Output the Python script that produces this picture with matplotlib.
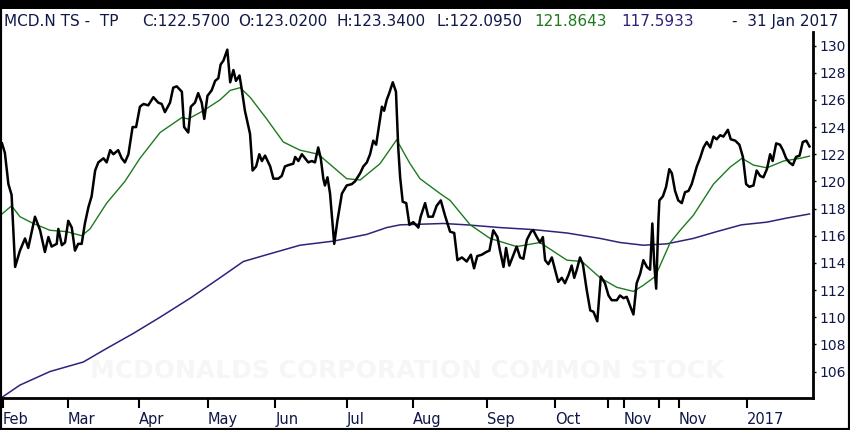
import numpy as np
import matplotlib
matplotlib.use("Agg")
import matplotlib.pyplot as plt
from matplotlib.patches import Rectangle

# trading session number (0 = 1 Feb 2016) and close price
priceDay = [0, 0.9, 2.0, 3.0, 4.1, 5.6, 7.2, 8.2, 10.3, 11.9, 13.4, 14.5, 15.5, 17.1, 17.6, 18.7, 19.7,
            20.7, 21.8, 22.8, 23.8, 24.9, 25.9, 27.0, 28.0, 29.1, 30.1, 31.7, 32.7, 33.8, 34.8, 36.3,
            37.4, 38.4, 39.5, 40.8, 41.9, 43.1, 44.2, 45.7, 47.3, 48.8, 49.9, 50.9, 52.5, 53.5, 54.6,
            56.2, 56.9, 58.2, 59.0, 60.3, 61.3, 62.4, 63.2, 64.2, 65.5, 66.6, 67.6, 68.3, 69.2, 70.4,
            71.3, 72.3, 73.1, 74.2, 74.9, 75.9, 77.5, 78.3, 79.4, 80.4, 81.2, 82.2, 83.8, 84.8, 86.3,
            87.4, 88.4, 89.5, 91.0, 91.6, 92.6, 93.7, 94.7, 95.7, 96.8, 97.8, 98.8, 99.6, 100.4, 100.9,
            101.7, 102.5, 103.8, 104.8, 106.2, 107.7, 109.3, 110.3, 111.9, 112.9, 114.0, 115.0, 116.0,
            116.9, 117.6, 118.7, 119.4, 120.2, 121.0, 122.1, 123.1, 123.8, 124.4, 125.2, 126.3, 127.3,
            128.5, 130.1, 130.8, 132.2, 133.2, 134.6, 135.8, 137.1, 138.4, 140.0, 141.3, 142.3, 143.7,
            145.2, 146.5, 147.5, 148.5, 149.9, 151.3, 152.3, 153.5, 154.8, 155.6, 156.7, 157.5, 158.5,
            159.8, 160.8, 161.9, 162.9, 164.0, 165.3, 166.0, 167.1, 168.1, 169.0, 169.7, 170.7, 171.8,
            172.8, 173.8, 174.9, 175.9, 177.0, 178.0, 178.8, 179.6, 180.6, 181.5, 182.7, 183.8, 184.8,
            186.0, 187.1, 188.4, 189.5, 190.5, 192.1, 193.1, 194.2, 195.2, 196.3, 197.3, 198.3, 199.4,
            200.4, 201.5, 202.5, 203.2, 203.8, 204.4, 205.1, 205.4, 206.5, 207.5, 208.5, 209.3, 210.3,
            211.3, 212.4, 213.4, 214.5, 215.5, 217.1, 218.1, 219.2, 220.2, 221.3, 222.3, 223.3, 224.4,
            225.4, 226.8, 227.7, 229.1, 230.4, 231.5, 232.5, 233.5, 234.8, 235.8, 236.9, 237.9, 239.0,
            240.0, 240.8, 241.9, 243.1, 244.0, 245.0, 246.0, 247.1, 248.1, 249.2, 250.2, 251.3, 252.3]
priceClose = [122.8, 122.1, 119.8, 119.0, 113.7, 114.9, 115.8, 115.1, 117.4, 116.4, 114.8, 115.9, 115.2,
              115.4, 116.5, 115.3, 115.5, 117.1, 116.6, 114.9, 115.4, 115.4, 116.9, 118.1, 118.9, 120.8,
              121.4, 121.7, 121.4, 122.3, 122.0, 122.3, 121.7, 121.4, 122.0, 124.0, 124.0, 125.5, 125.7,
              125.6, 126.2, 125.8, 125.7, 125.1, 125.8, 126.9, 127.0, 126.6, 124.0, 123.6, 125.5, 125.8,
              126.5, 125.8, 124.6, 126.3, 126.7, 127.4, 127.6, 128.6, 128.9, 129.7, 127.3, 128.2, 127.4,
              127.8, 126.8, 125.2, 123.5, 120.8, 121.1, 122.0, 121.5, 121.9, 121.1, 120.2, 120.2, 120.4,
              121.1, 121.2, 121.3, 121.8, 121.5, 122.0, 121.7, 121.4, 121.5, 121.4, 122.5, 121.7, 120.2,
              119.7, 120.3, 119.1, 115.4, 117.1, 119.1, 119.7, 119.8, 120.0, 120.6, 121.1, 121.4, 122.0,
              123.0, 122.7, 123.8, 125.5, 125.2, 126.0, 126.5, 127.3, 126.6, 122.5, 120.3, 118.5, 118.4,
              116.8, 117.0, 116.6, 117.4, 118.4, 117.4, 117.4, 118.2, 118.6, 117.5, 116.3, 116.2, 114.2,
              114.4, 114.1, 114.6, 113.6, 114.5, 114.6, 114.8, 114.9, 116.4, 115.9, 114.9, 113.7, 115.1,
              113.8, 114.6, 115.2, 114.4, 114.3, 115.7, 116.3, 116.4, 115.9, 115.5, 115.9, 114.2, 113.9,
              114.4, 113.5, 112.6, 112.9, 112.5, 113.1, 113.8, 112.9, 113.5, 114.4, 113.9, 112.0, 110.5,
              110.4, 109.7, 113.0, 112.5, 111.6, 111.25, 111.25, 111.6, 111.4, 111.5, 110.8, 110.2, 112.5,
              113.2, 114.2, 113.7, 113.5, 116.9, 113.9, 112.1, 117.1, 118.6, 118.9, 119.6, 120.9, 120.6,
              119.3, 118.6, 118.4, 119.2, 119.3, 119.8, 121.1, 121.7, 122.5, 122.9, 122.5, 123.3, 123.1,
              123.4, 123.3, 123.8, 123.1, 123.0, 122.7, 121.8, 119.8, 119.6, 119.7, 120.8, 120.4, 120.3,
              120.9, 122.0, 121.5, 122.8, 122.7, 122.3, 121.7, 121.4, 121.2, 121.8, 121.9, 122.9, 123.0,
              122.57]

# short moving average (green)
maShortDay = [0, 3.0, 5.6, 9.8, 15.0, 20.2, 24.9, 27.5, 32.7, 38.4, 43.1, 49.4, 56.2, 58.2, 62.9, 68.1,
              71.3, 74.4, 77.5, 82.7, 87.9, 93.1, 98.8, 103.5, 107.7, 111.9, 118.1, 123.3, 127.5, 130.6,
              136.9, 140.0, 146.3, 152.5, 160.8, 168.1, 176.5, 181.2, 186.9, 192.1, 197.3, 200.4, 204.1,
              208.8, 211.9, 216.0, 222.3, 227.5, 231.2, 234.8, 239.0, 244.2, 249.4, 252.3]
maShort = [117.6, 118.2, 117.4, 116.9, 116.4, 116.3, 116.0, 116.5, 118.4, 120.0, 121.7, 123.6, 124.7,
           124.6, 125.2, 126.0, 126.7, 126.9, 126.2, 124.6, 122.9, 122.3, 122.0, 121.05, 120.2, 120.1,
           121.3, 123.06, 121.3, 120.2, 119.1, 118.6, 116.8, 115.8, 115.2, 115.5, 114.2, 114.1, 112.9,
           112.2, 111.9, 112.35, 113.0, 115.5, 116.4, 117.5, 119.8, 121.05, 121.7, 121.2, 121.0, 121.5,
           121.7, 121.86]

# long moving average (purple)
maLongDay = [0, 5.6, 15.0, 25.4, 32.7, 41.0, 49.4, 58.8, 68.1, 75.4, 82.7, 93.1, 103.5, 114.0, 120.2,
             124.4, 137.9, 145.2, 155.6, 166.0, 176.5, 186.9, 193.1, 200.4, 207.7, 216.0, 223.3, 231.0,
             239.0, 245.2, 252.3]
maLong = [104.1, 105.0, 106.0, 106.7, 107.7, 108.8, 110.0, 111.4, 112.9, 114.1, 114.6, 115.3, 115.6,
          116.1, 116.6, 116.8, 116.9, 116.8, 116.6, 116.45, 116.2, 115.8, 115.5, 115.3, 115.4, 115.8,
          116.3, 116.8, 117.0, 117.3, 117.6]

tickDays = [0.2, 20.6, 42.9, 64.3, 85.4, 107.8, 128.4, 151.5, 172.7, 189.2, 194.2, 205.4, 211.5, 232.8]
tickLabels = ["Feb", "Mar", "Apr", "May", "Jun", "Jul", "Aug", "Sep", "Oct", "", "Nov", "", "Nov", "2017"]
yTicks = [106, 108, 110, 112, 114, 116, 118, 120, 122, 124, 126, 128, 130]

navy = "#101848"
green = "#1e7a1e"
purple = "#33207a"

fig = plt.figure(figsize=(8.5, 4.3), dpi=100)
fig.patch.set_facecolor("white")
ax = fig.add_axes([2 / 850, 32 / 430, 811 / 850, 366 / 430])

# faint watermark
ax.text(0.5, 0.075, "MCDONALDS CORPORATION COMMON STOCK", transform=ax.transAxes,
        ha="center", va="center", fontsize=18, fontweight="bold", color="#f6f6f6", zorder=0)

ax.plot(maLongDay, maLong, color=purple, lw=1.1, zorder=2)
ax.plot(maShortDay, maShort, color=green, lw=1.0, zorder=3)
ax.plot(priceDay, priceClose, color="black", lw=1.8, zorder=4)

ax.set_xlim(0, 253.4)
ax.set_ylim(104.05, 131.0)

for side in ["top", "left"]:
    ax.spines[side].set_visible(False)
ax.spines["bottom"].set_linewidth(2)
ax.spines["right"].set_linewidth(2)

ax.yaxis.tick_right()
ax.set_yticks(yTicks)
ax.set_yticklabels([str(v) for v in yTicks])
ax.tick_params(axis="y", direction="out", length=2.5, width=1, pad=2,
               labelsize=10, labelcolor=navy)
ax.set_xticks(tickDays)
ax.set_xticklabels(tickLabels)
ax.tick_params(axis="x", direction="out", length=7, width=1.5, pad=3,
               labelsize=10.5, labelcolor=navy)
plt.setp(ax.get_xticklabels(), ha="left")

# header line
ty = 1 - 26 / 430
fig.text(4 / 850, ty, "MCD.N TS -  TP", fontsize=11, color=navy, va="baseline")
fig.text(142 / 850, ty, "C:122.5700", fontsize=11, color=navy, va="baseline")
fig.text(238 / 850, ty, "O:123.0200", fontsize=11, color=navy, va="baseline")
fig.text(336 / 850, ty, "H:123.3400", fontsize=11, color=navy, va="baseline")
fig.text(436 / 850, ty, "L:122.0950", fontsize=11, color=navy, va="baseline")
fig.text(534 / 850, ty, "121.8643", fontsize=11, color=green, va="baseline")
fig.text(621 / 850, ty, "117.5933", fontsize=11, color=purple, va="baseline")
fig.text(838 / 850, ty, "-  31 Jan 2017", fontsize=11, color=navy, va="baseline", ha="right")

# black frame with thick top band
fig.patches.append(Rectangle((0, 0), 1, 1, transform=fig.transFigure, fill=False,
                             ec="black", lw=3, zorder=10))
fig.patches.append(Rectangle((0, 1 - 9 / 430), 1, 9 / 430, transform=fig.transFigure,
                             fc="black", ec="none", zorder=10))

fig.savefig("out.png", dpi=100, facecolor="white")
